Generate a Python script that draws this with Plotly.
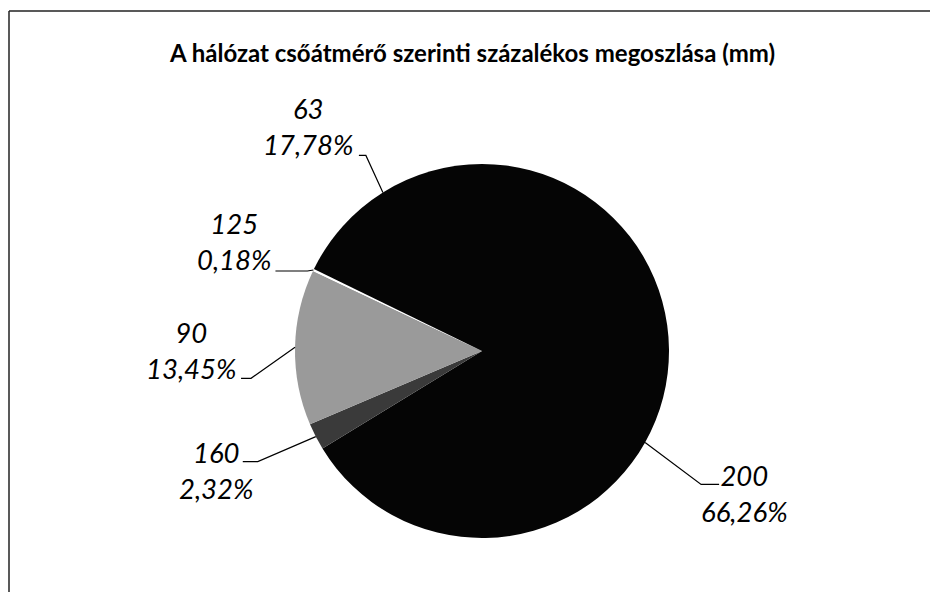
import math
import plotly.graph_objects as go

# ---- data ----
title_text = "A hálózat csőátmérő szerinti százalékos megoszlása (mm)"
categories = ["200", "160", "90", "125", "63"]
percent_values = [66.26, 2.32, 13.45, 0.18, 17.78]
percent_labels = ["66,26%", "2,32%", "13,45%", "0,18%", "17,78%"]

# ---- style / layout ----
W, H = 938, 592
OFF = 8  # page body margin compensation
CX, CY, R = 482, 351, 187  # pie centre and radius in pixels (screen)
slice_colors = ["#050505", "#3a3a3a", "#9a9a9a", "#ffffff", "#050505"]
# per-label offsets (pixels) from the slice's edge point: text centre, elbow, tail length
text_off = [(99, 51), (-100, 34), (-104, 3), (-79, -29), (-75, -66)]
elbow_off = [(56, 42), (-58, 25), (-44, 31), (-6, 1), (-17, -37)]
tail_len = [18, -15, -10, -32, -7]


def to_paper(px, py):
    return (px - OFF) / W, 1 - (py - OFF) / H


fig = go.Figure()
d0 = to_paper(CX - R, CY + R)
d1 = to_paper(CX + R, CY - R)
fig.add_trace(go.Pie(
    labels=categories,
    values=percent_values,
    sort=False,
    direction="clockwise",
    rotation=0,
    marker=dict(colors=slice_colors, line=dict(color="white", width=0)),
    textinfo="none",
    hoverinfo="label+percent",
    showlegend=False,
    domain=dict(x=[d0[0], d1[0]], y=[d0[1], d1[1]]),
))

total = sum(percent_values)
cum = 0.0
shapes = []
annotations = []
for i, (cat, v, lab) in enumerate(zip(categories, percent_values, percent_labels)):
    mid = (cum + v / 2) / total * 360.0
    cum += v
    a = math.radians(mid)
    px = CX + R * math.sin(a)
    py = CY - R * math.cos(a)
    ex, ey = px + elbow_off[i][0], py + elbow_off[i][1]
    fx, fy = ex + tail_len[i], ey
    p0 = to_paper(px, py)
    p1 = to_paper(ex, ey)
    p2 = to_paper(fx, fy)
    shapes.append(dict(type="path", xref="paper", yref="paper",
                       path=f"M {p0[0]} {p0[1]} L {p1[0]} {p1[1]} L {p2[0]} {p2[1]}",
                       line=dict(color="black", width=1.2)))
    tx, ty = to_paper(px + text_off[i][0], py + text_off[i][1])
    annotations.append(dict(x=tx, y=ty, xref="paper", yref="paper",
                            text=f"<i>{cat}<br>{lab}</i>", showarrow=False,
                            xanchor="center", yanchor="middle", align="center",
                            font=dict(family="Lato", size=27.5, color="black")))

# chart frame (top and left edges visible)
fl, ft = to_paper(9, 11)
shapes.append(dict(type="line", xref="paper", yref="paper", x0=fl, y0=ft, x1=1, y1=ft,
                   line=dict(color="#222222", width=1.5)))
shapes.append(dict(type="line", xref="paper", yref="paper", x0=fl, y0=ft, x1=fl, y1=0,
                   line=dict(color="#222222", width=1.5)))

tp = to_paper(472, 52)
annotations.append(dict(x=tp[0], y=tp[1], xref="paper", yref="paper",
                        text=f"<b>{title_text}</b>", showarrow=False,
                        xanchor="center", yanchor="middle",
                        font=dict(family="Lato", size=24, color="black")))

fig.update_layout(
    width=W, height=H, autosize=False,
    margin=dict(l=0, r=0, t=0, b=0),
    paper_bgcolor="white", plot_bgcolor="white",
    shapes=shapes, annotations=annotations,
)
fig.write_html("out.html")
